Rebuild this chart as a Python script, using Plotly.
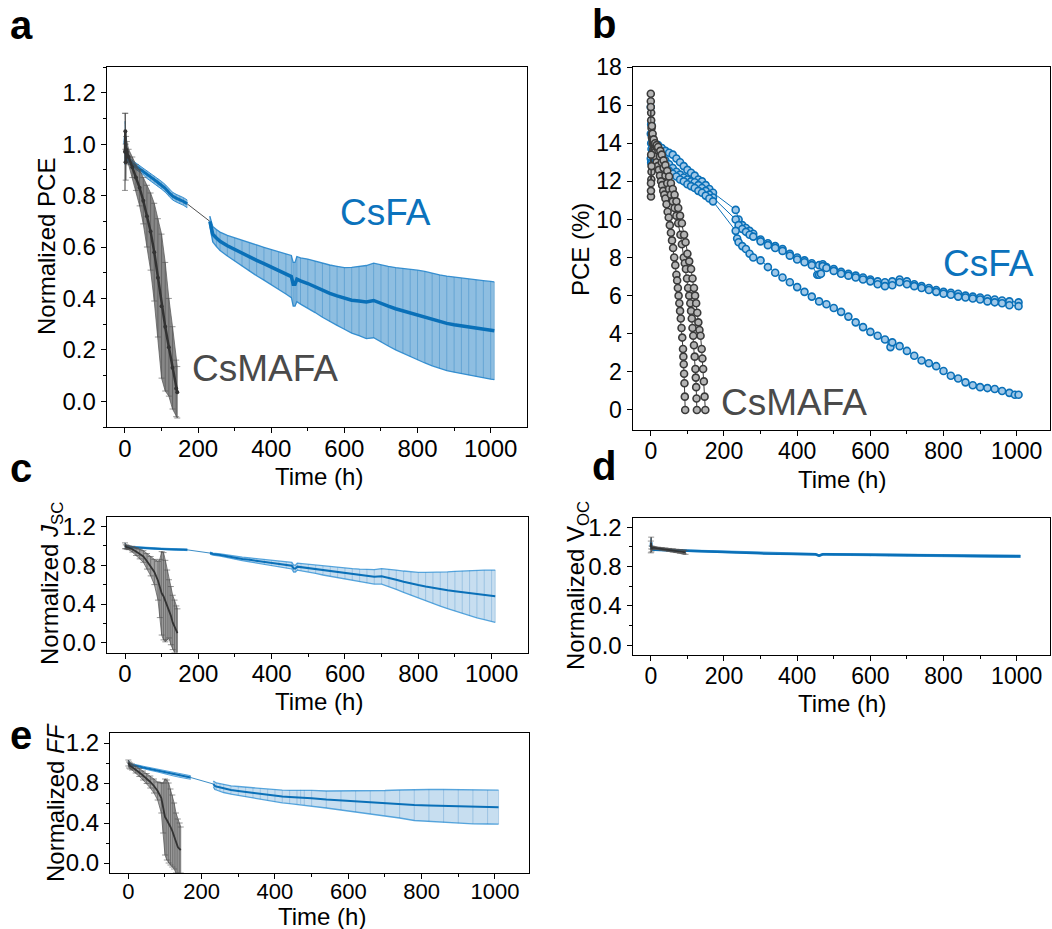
import numpy as np
import plotly.graph_objects as go

# ======================= DATA =======================
# ---- Panel a : normalized PCE, mean and s.d. ----
a_fa_t1 = [0, 1, 2, 4, 6, 8, 10, 15, 20, 25, 30, 40, 50, 60, 70, 80, 90, 100, 110, 120, 130, 140, 150, 160, 170]
a_fa_m1 = [1.0, 1.03, 0.97, 0.95, 0.945, 0.94, 0.935, 0.93, 0.925, 0.92, 0.915, 0.905, 0.893, 0.882, 0.872,
           0.862, 0.851, 0.84, 0.828, 0.812, 0.798, 0.79, 0.784, 0.777, 0.768]
a_fa_e1 = [0.08, 0.06, 0.04, 0.02, 0.012, 0.012, 0.012, 0.012, 0.012, 0.012, 0.012, 0.012, 0.012, 0.015, 0.015,
           0.015, 0.015, 0.015, 0.015, 0.015, 0.015, 0.015, 0.015, 0.015, 0.015]
a_fa_t2 = [232, 236, 240, 250, 260, 280, 300, 320, 340, 360, 380, 400, 420, 440, 455, 460, 465, 470, 480, 500,
           520, 540, 560, 580, 600, 620, 640, 660, 680, 700, 720, 740, 760, 780, 800, 820, 840, 860, 880, 900,
           920, 940, 960, 980, 1000, 1010]
a_fa_m2 = [0.70, 0.67, 0.65, 0.635, 0.622, 0.605, 0.59, 0.575, 0.56, 0.548, 0.535, 0.522, 0.508, 0.495, 0.485,
           0.455, 0.455, 0.475, 0.468, 0.458, 0.445, 0.432, 0.42, 0.41, 0.40, 0.393, 0.39, 0.386, 0.392, 0.38,
           0.37, 0.36, 0.352, 0.343, 0.335, 0.327, 0.318, 0.31, 0.303, 0.298, 0.293, 0.288, 0.284, 0.28, 0.276, 0.274]
a_fa_e2 = [0.02, 0.025, 0.03, 0.033, 0.036, 0.04, 0.045, 0.05, 0.055, 0.06, 0.064, 0.068, 0.072, 0.078, 0.082,
           0.085, 0.085, 0.088, 0.09, 0.095, 0.1, 0.105, 0.11, 0.115, 0.12, 0.128, 0.135, 0.142, 0.145, 0.15,
           0.155, 0.16, 0.165, 0.17, 0.175, 0.178, 0.18, 0.182, 0.184, 0.185, 0.186, 0.187, 0.188, 0.189, 0.19, 0.19]
a_ma_t = [0, 1, 2, 3, 5, 10, 20, 30, 40, 50, 60, 70, 80, 90, 100, 110, 120, 130, 140, 143]
a_ma_m = [0.97, 1.05, 0.93, 0.98, 0.97, 0.95, 0.91, 0.87, 0.83, 0.78, 0.72, 0.66, 0.58, 0.48, 0.37, 0.29, 0.21,
          0.13, 0.05, 0.035]
a_ma_e = [0.15, 0.07, 0.07, 0.05, 0.04, 0.03, 0.04, 0.05, 0.07, 0.09, 0.12, 0.15, 0.19, 0.23, 0.28, 0.25, 0.19,
          0.16, 0.11, 0.1]

# ---- Panel b : PCE (%) of individual devices ----
b_fa1_t = [0, 1, 2, 5, 10, 20, 30, 40, 50, 60, 70, 80, 90, 100, 110, 120, 130, 140, 150, 160, 170,
           232, 240, 250, 260, 270, 280, 300, 320, 340, 360, 380, 400, 420, 440, 460, 470, 480, 500, 520, 540,
           560, 580, 600, 620, 640, 660, 680, 700, 720, 740, 760, 780, 800, 820, 840, 860, 880, 900, 920, 940,
           960, 980, 1005]
b_fa1_v = [15.9, 15.0, 14.5, 14.2, 14.0, 13.9, 13.75, 13.6, 13.5, 13.4, 13.2, 13.0, 12.8, 12.6, 12.45, 12.3, 12.1,
           12.0, 11.8, 11.6, 11.4,
           10.5, 10.0, 9.7, 9.55, 9.4, 9.25, 8.95, 8.75, 8.6, 8.45, 8.2, 8.0, 7.85, 7.7, 7.6, 7.65, 7.5, 7.4, 7.25,
           7.15, 7.05, 6.95, 6.85, 6.75, 6.7, 6.75, 6.85, 6.75, 6.6, 6.5, 6.4, 6.3, 6.2, 6.15, 6.1, 6.0, 5.95, 5.9,
           5.85, 5.8, 5.75, 5.7, 5.65]
b_fa2_t = [0, 1, 2, 5, 10, 20, 30, 40, 50, 60, 70, 80, 90, 100, 110, 120, 130, 140, 150, 160, 170,
           232, 240, 250, 260, 270, 280, 300, 320, 340, 360, 380, 400, 420, 440, 455, 460, 465, 470, 480, 500,
           520, 540, 560, 580, 600, 620, 640, 660, 680, 700, 720, 740, 760, 780, 800, 820, 840, 860, 880, 900,
           920, 940, 960, 980, 1005]
b_fa2_v = [14.5, 14.0, 13.7, 13.6, 13.5, 13.4, 13.3, 13.1, 12.9, 12.7, 12.5, 12.35, 12.2, 12.1, 12.0, 11.95, 11.8,
           11.65, 11.5, 11.3, 11.15,
           10.0, 9.7, 9.5, 9.35, 9.2, 9.1, 8.85, 8.65, 8.5, 8.35, 8.1, 7.9, 7.75, 7.6, 7.1, 7.1, 7.15, 7.55, 7.45,
           7.3, 7.15, 7.05, 6.95, 6.85, 6.75, 6.6, 6.5, 6.55, 6.7, 6.6, 6.5, 6.4, 6.3, 6.2, 6.1, 6.05, 5.95, 5.9,
           5.85, 5.8, 5.7, 5.65, 5.6, 5.5, 5.45]
b_fa3_t = [0, 1, 2, 5, 10, 20, 30, 40, 50, 60, 70, 80, 90, 100, 110, 120, 130, 140, 150, 160, 170,
           232, 236, 240, 250, 260, 270, 280, 300, 320, 340, 360, 380, 400, 420, 440, 460, 480, 500, 520, 540,
           560, 580, 600, 620, 640, 655, 660, 680, 700, 720, 740, 760, 780, 800, 820, 840, 860, 880, 900, 920,
           940, 960, 980, 995, 1005]
b_fa3_v = [13.2, 13.0, 12.95, 12.9, 12.9, 12.85, 12.8, 12.7, 12.55, 12.4, 12.25, 12.1, 12.0, 11.85, 11.75, 11.65,
           11.5, 11.4, 11.25, 11.1, 10.95,
           9.4, 9.0, 8.8, 8.6, 8.45, 8.2, 8.0, 7.85, 7.5, 7.2, 6.95, 6.7, 6.45, 6.2, 5.95, 5.7, 5.55, 5.35, 5.15,
           4.9, 4.6, 4.35, 4.1, 3.9, 3.7, 3.3, 3.55, 3.35, 3.1, 2.85, 2.6, 2.45, 2.3, 2.05, 1.8, 1.65, 1.45, 1.3,
           1.2, 1.15, 1.1, 1.0, 0.9, 0.8, 0.8]
b_ma1_t = [0, 0.5, 1, 1.5, 2, 3, 5, 7, 10, 13, 16, 19, 22, 25, 28, 31, 34, 37, 40, 43, 46, 49, 52, 55, 58, 61,
           64, 67, 70, 72, 74, 76, 78, 80, 82, 84, 86, 88, 89, 90, 91, 92, 93, 94]
b_ma1_v = [16.6, 11.2, 15.6, 12.1, 14.8, 14.3, 14.0, 13.7, 13.5, 13.3, 13.0, 12.8, 12.6, 12.3, 12.0, 11.8, 11.5,
           11.3, 11.1, 10.8, 10.4, 10.1, 9.7, 9.3, 8.9, 8.5, 8.0, 7.6, 7.1, 6.8, 6.4, 6.0, 5.6, 5.2, 4.8, 4.3,
           3.8, 3.2, 2.8, 2.4, 1.9, 1.4, 0.7, 0.0]
b_ma2_t = [0, 0.5, 1, 2, 3, 5, 8, 12, 16, 21, 25, 30, 35, 40, 45, 50, 55, 60, 65, 70, 75, 81, 85, 90, 93, 96,
           99, 102, 105, 108, 110, 112, 114, 116, 118, 120, 122, 123, 124, 125, 126]
b_ma2_v = [16.2, 11.5, 15.2, 12.5, 14.5, 14.2, 14.0, 13.9, 13.8, 13.6, 13.3, 13.0, 12.7, 12.3, 11.9, 11.6, 11.3,
           10.95, 10.6, 10.2, 9.8, 9.2, 8.7, 8.0, 7.7, 7.4, 6.9, 6.4, 6.0, 5.6, 5.2, 4.8, 4.3, 3.9, 3.4, 2.8,
           2.15, 1.7, 1.2, 0.6, 0.0]
b_ma3_t = [0, 0.5, 1, 2, 3, 5, 8, 12, 16, 20, 26, 30, 35, 40, 45, 50, 55, 60, 65, 70, 75, 80, 85, 91, 95, 100,
           105, 110, 114, 118, 121, 124, 127, 130, 133, 136, 139, 141, 143, 145, 147, 149]
b_ma3_v = [15.9, 11.9, 13.4, 12.8, 14.9, 14.5, 14.2, 14.0, 13.9, 13.8, 13.6, 13.4, 13.1, 12.85, 12.55, 12.25,
           11.9, 11.6, 11.3, 10.95, 10.6, 10.2, 9.8, 9.2, 8.8, 8.2, 7.8, 7.4, 6.9, 6.4, 6.0, 5.6, 5.1, 4.6, 4.2,
           3.9, 3.2, 2.7, 2.15, 1.5, 0.7, 0.0]

# ---- Panel c : normalized Jsc ----
c_fa_t1 = [0, 2, 5, 10, 20, 40, 60, 80, 100, 120, 140, 160, 170]
c_fa_m1 = [1.0, 0.995, 0.99, 0.988, 0.985, 0.98, 0.975, 0.972, 0.968, 0.965, 0.962, 0.96, 0.958]
c_fa_e1 = [0.03, 0.015, 0.01, 0.008, 0.008, 0.008, 0.008, 0.008, 0.008, 0.008, 0.008, 0.008, 0.008]
c_fa_t2 = [232, 240, 260, 280, 300, 320, 340, 360, 380, 400, 420, 440, 455, 460, 465, 470, 480, 500, 520, 540,
           560, 580, 600, 620, 640, 660, 680, 700, 720, 740, 760, 780, 800, 820, 840, 860, 880, 900, 920, 940,
           960, 980, 1000, 1010]
c_fa_m2 = [0.925, 0.915, 0.905, 0.89, 0.875, 0.865, 0.855, 0.845, 0.832, 0.82, 0.81, 0.8, 0.795, 0.765, 0.765,
           0.785, 0.78, 0.77, 0.758, 0.745, 0.735, 0.725, 0.715, 0.705, 0.695, 0.685, 0.68, 0.685, 0.67, 0.65,
           0.63, 0.61, 0.595, 0.58, 0.565, 0.553, 0.542, 0.532, 0.522, 0.512, 0.502, 0.495, 0.485, 0.48]
c_fa_e2 = [0.01, 0.01, 0.012, 0.014, 0.016, 0.018, 0.02, 0.022, 0.025, 0.027, 0.03, 0.032, 0.034, 0.035, 0.035,
           0.036, 0.037, 0.04, 0.043, 0.046, 0.05, 0.053, 0.056, 0.06, 0.065, 0.07, 0.075, 0.08, 0.09, 0.1,
           0.11, 0.12, 0.13, 0.145, 0.16, 0.175, 0.19, 0.205, 0.22, 0.235, 0.245, 0.255, 0.265, 0.27]
c_ma_t = [0, 2, 5, 10, 20, 30, 40, 50, 60, 70, 80, 90, 95, 100, 105, 110, 115, 120, 125, 130, 135, 140, 143]
c_ma_m = [1.0, 0.99, 0.985, 0.98, 0.965, 0.94, 0.915, 0.89, 0.84, 0.79, 0.73, 0.64, 0.56, 0.51, 0.48, 0.43,
          0.39, 0.35, 0.28, 0.21, 0.17, 0.12, 0.1]
c_ma_e = [0.03, 0.02, 0.02, 0.02, 0.03, 0.04, 0.05, 0.06, 0.08, 0.1, 0.13, 0.2, 0.3, 0.43, 0.45, 0.42, 0.36,
          0.3, 0.3, 0.28, 0.27, 0.26, 0.25]

# ---- Panel d : normalized Voc ----
d_fa_t = [0, 1, 2, 5, 10, 20, 40, 60, 80, 100, 120, 140, 160, 170, 232, 260, 300, 350, 400, 450, 460, 470, 480,
          500, 550, 600, 650, 700, 750, 800, 850, 900, 950, 1000, 1010]
d_fa_m = [1.0, 1.05, 0.99, 0.975, 0.972, 0.97, 0.968, 0.966, 0.964, 0.962, 0.96, 0.958, 0.956, 0.955, 0.945,
          0.94, 0.935, 0.93, 0.928, 0.925, 0.912, 0.925, 0.925, 0.924, 0.92, 0.915, 0.915, 0.914, 0.913, 0.912,
          0.91, 0.908, 0.906, 0.905, 0.905]
d_fa_e = [0.03, 0.04, 0.02, 0.01, 0.008, 0.008, 0.008, 0.008, 0.008, 0.008, 0.008, 0.008, 0.008, 0.008, 0.008,
          0.008, 0.008, 0.008, 0.008, 0.009, 0.009, 0.009, 0.009, 0.009, 0.01, 0.01, 0.01, 0.01, 0.01, 0.011,
          0.011, 0.011, 0.012, 0.012, 0.012]
d_ma_t = [0, 1, 2, 5, 10, 20, 30, 40, 50, 60, 70, 80, 90, 95]
d_ma_m = [1.0, 1.04, 0.98, 0.99, 0.99, 0.985, 0.98, 0.975, 0.97, 0.965, 0.96, 0.955, 0.95, 0.945]
d_ma_e = [0.06, 0.06, 0.03, 0.015, 0.012, 0.012, 0.013, 0.014, 0.015, 0.016, 0.017, 0.018, 0.02, 0.02]

# ---- Panel e : normalized FF ----
e_fa_t1 = [0, 2, 5, 10, 20, 30, 40, 60, 80, 100, 120, 140, 160, 170]
e_fa_m1 = [1.0, 0.99, 0.985, 0.98, 0.975, 0.965, 0.955, 0.94, 0.925, 0.905, 0.89, 0.875, 0.86, 0.855]
e_fa_e1 = [0.03, 0.02, 0.015, 0.012, 0.012, 0.012, 0.013, 0.014, 0.015, 0.016, 0.017, 0.018, 0.018, 0.018]
e_fa_t2 = [232, 236, 240, 250, 260, 280, 300, 320, 340, 360, 380, 400, 420, 440, 460, 470, 480, 500, 540, 580,
           620, 660, 700, 740, 780, 820, 860, 900, 940, 980, 1010]
e_fa_m2 = [0.79, 0.77, 0.765, 0.755, 0.745, 0.73, 0.72, 0.71, 0.7, 0.69, 0.68, 0.672, 0.665, 0.66, 0.655, 0.66,
           0.655, 0.648, 0.635, 0.625, 0.615, 0.605, 0.6, 0.59, 0.58, 0.575, 0.57, 0.565, 0.562, 0.56, 0.558]
e_fa_e2 = [0.03, 0.035, 0.035, 0.038, 0.04, 0.042, 0.045, 0.048, 0.05, 0.053, 0.056, 0.06, 0.063, 0.066, 0.07,
           0.072, 0.075, 0.078, 0.085, 0.095, 0.105, 0.115, 0.125, 0.14, 0.155, 0.16, 0.165, 0.168, 0.17, 0.17, 0.17]
e_ma_t = [0, 2, 5, 10, 20, 30, 40, 50, 60, 70, 80, 90, 95, 100, 105, 110, 115, 120, 125, 130, 135, 140, 143]
e_ma_m = [1.0, 0.98, 0.97, 0.96, 0.935, 0.905, 0.875, 0.845, 0.81, 0.77, 0.72, 0.65, 0.55, 0.46, 0.43, 0.4, 0.36,
          0.32, 0.27, 0.2, 0.16, 0.14, 0.13]
e_ma_e = [0.03, 0.03, 0.03, 0.03, 0.035, 0.04, 0.045, 0.05, 0.06, 0.07, 0.09, 0.15, 0.25, 0.38, 0.4, 0.4, 0.38,
          0.36, 0.33, 0.3, 0.28, 0.26, 0.23]

x_ticks = [0, 200, 400, 600, 800, 1000]
labels = {"fa": "CsFA", "ma": "CsMAFA"}

# ======================= STYLE =======================
W, H = 1052, 929
FONT = "Liberation Sans, Arial, sans-serif"
BLUE = "#0A70B8"
BLUE_TXT = "#0B72BC"
GREY_TXT = "#4A4A4A"
DARK = "#333333"


def px(x):
    return x / W


def py(y):
    return 1 - y / H


fig = go.Figure()


def band(t, m, e, xa, ya, fill, edge, ew=1.2):
    t = np.asarray(t, float)
    m = np.asarray(m, float)
    e = np.asarray(e, float)
    fig.add_trace(go.Scatter(x=t, y=m + e, xaxis=xa, yaxis=ya, mode="lines",
                             line=dict(color=edge, width=ew), hoverinfo="skip", showlegend=False))
    fig.add_trace(go.Scatter(x=t, y=m - e, xaxis=xa, yaxis=ya, mode="lines",
                             line=dict(color=edge, width=ew), fill="tonexty", fillcolor=fill,
                             hoverinfo="skip", showlegend=False))


def mean(t, m, e, xa, ya, color, lw, barc, barw, cap=0, ms=0):
    fig.add_trace(go.Scatter(x=t, y=m, xaxis=xa, yaxis=ya,
                             mode="lines+markers" if ms else "lines",
                             line=dict(color=color, width=lw),
                             marker=dict(size=ms, color=color),
                             error_y=dict(type="data", array=e, visible=True, color=barc,
                                          thickness=barw, width=cap),
                             showlegend=False))


def link(t1, m1, t2, m2, xa, ya, color, w):
    fig.add_trace(go.Scatter(x=[t1[-1], t2[0]], y=[m1[-1], m2[0]], xaxis=xa, yaxis=ya, mode="lines",
                             line=dict(color=color, width=w), hoverinfo="skip", showlegend=False))


def norm_panel(xa, ya, t1, m1, e1, t2, m2, e2, tm, mm, em, fill, edge, bar, ma_fill, strong):
    # CsFA
    band(t1, m1, e1, xa, ya, fill, edge, 1.0)
    if t2 is not None:
        band(t2, m2, e2, xa, ya, fill, edge, 1.3)
        link(t1, m1, t2, m2, xa, ya, "#222222" if strong else BLUE, 0.8)
        mean(t1, m1, e1, xa, ya, BLUE, 3 if strong else 2, bar, 1)
        mean(t2, m2, e2, xa, ya, BLUE, 3.5 if strong else 2, bar, 1)
    else:
        mean(t1, m1, e1, xa, ya, BLUE, 2.5, bar, 1)
    # CsMAFA
    band(tm, mm, em, xa, ya, ma_fill, "rgba(90,90,90,0.75)", 1.0)
    mean(tm, mm, em, xa, ya, DARK, 2.5 if strong else 1.8, "rgba(80,80,80,0.6)", 1, cap=3,
         ms=4 if strong else 0)


# ---- panel a ----
norm_panel("x", "y", a_fa_t1, a_fa_m1, a_fa_e1, a_fa_t2, a_fa_m2, a_fa_e2,
           a_ma_t, a_ma_m, a_ma_e, "rgba(30,125,195,0.50)", "rgba(40,135,205,0.9)",
           "rgba(30,120,190,0.35)", "rgba(70,70,70,0.65)", True)

# ---- panel b ----
for tt, vv in [(b_fa1_t, b_fa1_v), (b_fa2_t, b_fa2_v), (b_fa3_t, b_fa3_v)]:
    fig.add_trace(go.Scatter(x=tt, y=vv, xaxis="x2", yaxis="y2", mode="lines+markers",
                             line=dict(color=BLUE, width=1),
                             marker=dict(symbol="circle", size=7, color="rgb(160,200,232)",
                                         line=dict(color=BLUE, width=1.6)),
                             showlegend=False))
for tt, vv in [(b_ma1_t, b_ma1_v), (b_ma2_t, b_ma2_v), (b_ma3_t, b_ma3_v)]:
    fig.add_trace(go.Scatter(x=tt, y=vv, xaxis="x2", yaxis="y2", mode="lines+markers",
                             line=dict(color="#3a3a3a", width=1),
                             marker=dict(symbol="circle", size=7, color="rgb(180,180,180)",
                                         line=dict(color="#3a3a3a", width=1.6)),
                             showlegend=False))

# ---- panels c, d, e ----
norm_panel("x3", "y3", c_fa_t1, c_fa_m1, c_fa_e1, c_fa_t2, c_fa_m2, c_fa_e2,
           c_ma_t, c_ma_m, c_ma_e, "rgba(30,125,195,0.25)", "rgba(60,150,215,0.85)",
           "rgba(30,120,190,0.25)", "rgba(70,70,70,0.5)", False)
norm_panel("x4", "y4", d_fa_t, d_fa_m, d_fa_e, None, None, None,
           d_ma_t, d_ma_m, d_ma_e, "rgba(30,125,195,0.35)", "rgba(60,150,215,0.85)",
           "rgba(30,120,190,0.35)", "rgba(70,70,70,0.5)", False)
norm_panel("x5", "y5", e_fa_t1, e_fa_m1, e_fa_e1, e_fa_t2, e_fa_m2, e_fa_e2,
           e_ma_t, e_ma_m, e_ma_e, "rgba(30,125,195,0.25)", "rgba(60,150,215,0.85)",
           "rgba(30,120,190,0.25)", "rgba(70,70,70,0.5)", False)


# ======================= AXES =======================
def xax(x0, x1, rng, anchor, fs, standoff=-5):
    return dict(domain=[px(x0), px(x1)], range=rng, anchor=anchor, showline=True, mirror=True,
                linecolor="black", linewidth=1, ticks="outside", ticklen=5, tickwidth=1,
                tickcolor="black", tickvals=x_ticks, showgrid=False, zeroline=False, automargin=False,
                ticklabelstandoff=standoff,
                tickfont=dict(size=fs, color="black", family=FONT),
                minor=dict(ticks="outside", ticklen=3, tickcolor="black", dtick=100, tick0=0))


def yax(y0, y1, rng, anchor, fs, dtick, mdtick, fmt):
    d = dict(domain=[py(y1), py(y0)], range=rng, anchor=anchor, showline=True, mirror=True,
             linecolor="black", linewidth=1, ticks="outside", ticklen=5, tickwidth=1,
             tickcolor="black", dtick=dtick, tick0=0, showgrid=False, zeroline=False, automargin=False,
             tickformat=fmt, tickfont=dict(size=fs, color="black", family=FONT))
    if mdtick:
        d["minor"] = dict(ticks="outside", ticklen=3, tickcolor="black", dtick=mdtick, tick0=0)
    return d


layout = dict(
    width=W, height=H, margin=dict(l=0, r=0, t=0, b=0, autoexpand=False),
    paper_bgcolor="white", plot_bgcolor="white",
    font=dict(family=FONT, color="black"), showlegend=False,
    xaxis=xax(106.7, 526.5, [-50, 1098], "y", 24),
    yaxis=yax(67, 427, [-0.1, 1.3], "x", 24, 0.2, 0.1, ".1f"),
    xaxis2=xax(632.5, 1050, [-50, 1091], "y2", 23),
    yaxis2=yax(67, 430, [-1.05, 18], "x2", 23, 2, None, "d"),
    xaxis3=xax(106.7, 527.5, [-50, 1098], "y3", 24),
    yaxis3=yax(516.7, 652.5, [-0.1, 1.3], "x3", 24, 0.4, 0.2, ".1f"),
    xaxis4=xax(632.5, 1050, [-50, 1091], "y4", 23),
    yaxis4=yax(517.5, 655, [-0.1, 1.3], "x4", 24, 0.4, 0.2, ".1f"),
    xaxis5=xax(110, 529, [-50, 1093], "y5", 22, -6),
    yaxis5=yax(733, 873, [-0.1, 1.3], "x5", 24, 0.4, 0.2, ".1f"),
)
fig.update_layout(**layout)

ann = []


def text(x, y, s, size, color="black", angle=0, bold=False, xanchor="center", yanchor="middle"):
    ann.append(dict(x=px(x), y=py(y), xref="paper", yref="paper", text=f"<b>{s}</b>" if bold else s,
                    showarrow=False, textangle=angle, xanchor=xanchor, yanchor=yanchor,
                    font=dict(size=size, color=color, family=FONT)))


# panel letters
for s, x, y in [("a", 8, 25), ("b", 590, 24), ("c", 8, 468), ("d", 590, 466), ("e", 8, 735)]:
    text(x, y, s, 40, bold=True, xanchor="left")

# axis titles
text(319, 477, "Time (h)", 24)
text(842, 479, "Time (h)", 24)
text(319, 701, "Time (h)", 24)
text(842, 703, "Time (h)", 24)
text(322, 916, "Time (h)", 24)
text(47, 247, "Normalized PCE", 24, angle=-90)
text(581, 250, "PCE (%)", 24, angle=-90)
text(51, 584, "Normalized <i>J</i><sub>SC</sub>", 24, angle=-90)
text(577, 586, "Normalized V<sub>OC</sub>", 24, angle=-90)
text(55, 803, "Normalized <i>FF</i>", 24, angle=-90)

# curve labels
text(386, 213, labels["fa"], 37, color=BLUE_TXT)
text(265, 368, labels["ma"], 37, color=GREY_TXT)
text(988, 263, labels["fa"], 37, color=BLUE_TXT)
text(794, 403, labels["ma"], 37, color=GREY_TXT)

fig.update_layout(annotations=ann)
fig.write_html("out.html")
